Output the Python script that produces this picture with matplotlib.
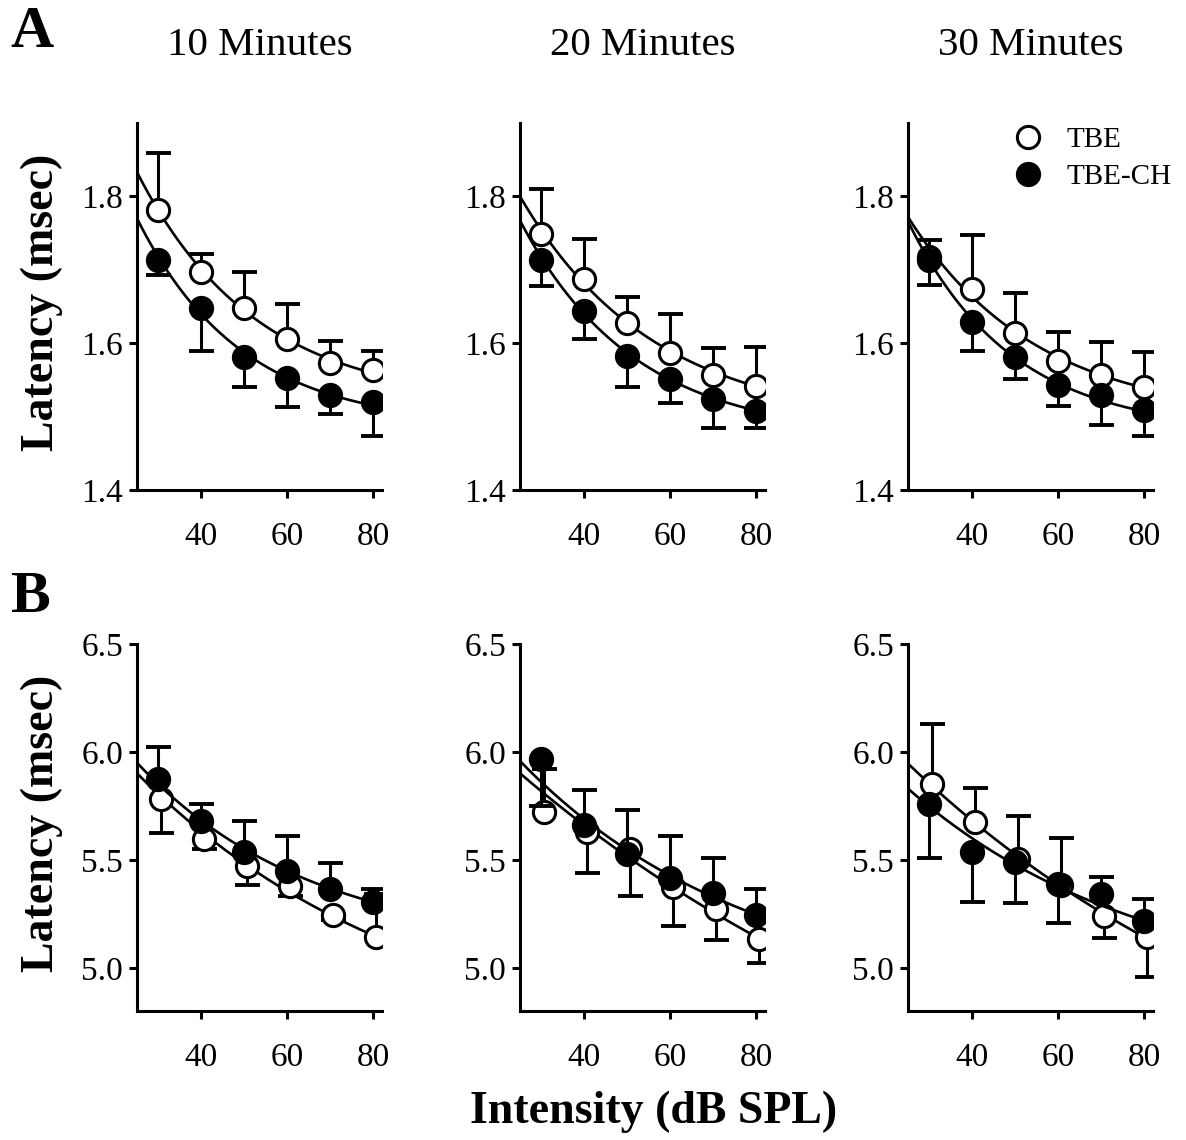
import numpy as np
import matplotlib
matplotlib.use("Agg")
import matplotlib.pyplot as plt
from matplotlib.lines import Line2D

plt.rcParams['font.family'] = ['Liberation Serif', 'DejaVu Serif']

# ---------------- data ----------------
time_titles = ['10 Minutes', '20 Minutes', '30 Minutes']
intensity = [30, 40, 50, 60, 70, 80]

# Row A (latency, msec); errors are signed (+ = bar up, - = bar down)
a_tbe = [[1.782, 1.697, 1.648, 1.606, 1.573, 1.564],
         [1.749, 1.687, 1.628, 1.586, 1.557, 1.542],
         [1.718, 1.674, 1.614, 1.576, 1.556, 1.541]]
a_tbe_err = [[0.077, 0.025, 0.049, 0.047, 0.030, 0.026],
             [0.061, 0.055, 0.035, 0.054, 0.036, 0.053],
             [0.022, 0.073, 0.054, 0.039, 0.046, 0.047]]
a_ch = [[1.714, 1.648, 1.581, 1.552, 1.529, 1.520],
        [1.713, 1.644, 1.583, 1.551, 1.524, 1.508],
        [1.714, 1.629, 1.581, 1.543, 1.529, 1.509]]
a_ch_err = [[-0.021, -0.058, -0.040, -0.039, -0.026, -0.047],
            [-0.035, -0.038, -0.042, -0.032, -0.040, -0.024],
            [-0.035, -0.039, -0.030, -0.029, -0.041, -0.036]]
# fitted-curve values read at the curve ends (x = 25 and x = 80)
a_tbe_fit_ends = [[1.833, 1.559], [1.800, 1.541], [1.772, 1.539]]
a_ch_fit_ends = [[1.770, 1.515], [1.767, 1.508], [1.766, 1.507]]

# Row B
b_tbe = [[5.781, 5.596, 5.470, 5.381, 5.243, 5.143],
         [5.720, 5.627, 5.550, 5.374, 5.273, 5.135],
         [5.853, 5.677, 5.504, 5.384, 5.238, 5.142]]
b_tbe_err = [[-0.157, -0.046, -0.086, -0.046, -0.020, 0.200],
             [0.200, -0.187, -0.218, -0.180, -0.146, -0.111],
             [0.277, 0.156, 0.200, 0.216, -0.100, -0.185]]
b_ch = [[5.876, 5.681, 5.535, 5.450, 5.366, 5.304],
        [5.965, 5.661, 5.527, 5.415, 5.347, 5.246],
        [5.761, 5.535, 5.492, 5.387, 5.341, 5.218]]
b_ch_err = [[0.148, 0.080, 0.146, 0.159, 0.118, 0.059],
            [-0.215, 0.163, 0.204, 0.197, 0.160, 0.117],
            [-0.254, -0.231, -0.190, -0.180, 0.082, 0.100]]
b_tbe_fit_ends = [[5.901, 5.150], [5.901, 5.143], [5.946, 5.142]]
b_ch_fit_ends = [[5.950, 5.304], [5.958, 5.246], [5.830, 5.218]]

series_labels = ['TBE', 'TBE-CH']
a_yticks = [1.4, 1.6, 1.8]
b_yticks = [5.0, 5.5, 6.0, 6.5]
xticks = [40, 60, 80]


def decay_curve(x, y, ends, x0=25.0, x1=80.0):
    """One-phase exponential decay pinned to the read curve ends,
    curvature chosen by least squares against the plotted means."""
    x = np.asarray(x, float)
    y = np.asarray(y, float)
    s, e = ends
    best = None
    for k in np.concatenate([np.linspace(-0.03, -0.0005, 120),
                             np.linspace(0.0005, 0.2, 600)]):
        d = np.exp(-k * x0) - np.exp(-k * x1)
        b = (s - e) / d
        a = s - b * np.exp(-k * x0)
        sse = np.sum((a + b * np.exp(-k * x) - y) ** 2)
        if best is None or sse < best[0]:
            best = (sse, a, b, k)
    _, a, b, k = best
    return lambda t: a + b * np.exp(-k * t)


W, H = 1186, 1140
fig = plt.figure(figsize=(W / 100, H / 100), dpi=100)

LW = 2.2
MS = 16
CAP = 18


def draw_series(ax, x, y, e, ends, filled, z):
    x = np.asarray(x, float)
    y = np.asarray(y, float)
    e = np.asarray(e, float)
    ax.vlines(x, y, y + e, color='black', lw=LW, zorder=z)
    ax.plot(x, y + e, ls='none', marker='_', ms=CAP, mew=LW + 0.6,
            color='black', zorder=z)
    f = decay_curve(x, y, ends)
    t = np.linspace(25, x.max(), 200)
    ax.plot(t, f(t), color='black', lw=1.9, zorder=z + 1)
    ax.plot(x, y, ls='none', marker='o', ms=MS, mew=LW,
            mec='black', mfc='black' if filled else 'white', zorder=z + 2)


col_left = [137, 520, 908]
row_top = [123, 644]
aw, ah = 245, 367

axes_rows = []
for r in range(2):
    row = []
    for c in range(3):
        left = col_left[c] / W
        bottom = 1 - (row_top[r] + ah) / H
        ax = fig.add_axes([left, bottom, aw / W, ah / H])
        row.append(ax)
    axes_rows.append(row)

for c in range(3):
    axA = axes_rows[0][c]
    axB = axes_rows[1][c]
    xs = np.array(intensity, float)
    draw_series(axA, xs, a_tbe[c], a_tbe_err[c], a_tbe_fit_ends[c], False, 2)
    draw_series(axA, xs, a_ch[c], a_ch_err[c], a_ch_fit_ends[c], True, 5)
    draw_series(axB, xs + 0.6, b_tbe[c], b_tbe_err[c], b_tbe_fit_ends[c],
                False, 2)
    draw_series(axB, xs, b_ch[c], b_ch_err[c], b_ch_fit_ends[c], True, 5)

    axA.set_ylim(1.4, 1.9)
    axA.set_yticks(a_yticks)
    axA.set_yticklabels([f'{v:.1f}' for v in a_yticks])
    axB.set_ylim(4.8, 6.5)
    axB.set_yticks(b_yticks)
    axB.set_yticklabels([f'{v:.1f}' for v in b_yticks])
    for ax in (axA, axB):
        ax.set_xlim(25, 82)
        ax.set_xticks(xticks)
        for s in ('top', 'right'):
            ax.spines[s].set_visible(False)
        for s in ('left', 'bottom'):
            ax.spines[s].set_linewidth(LW)
            ax.spines[s].set_capstyle('projecting')
        ax.tick_params(axis='both', direction='out', length=6, width=LW,
                       labelsize=24)
        ax.tick_params(axis='x', pad=17)
        ax.tick_params(axis='y', pad=4)
        ax.patch.set_alpha(0)

    cx = (col_left[c] + aw / 2) / W
    fig.text(cx, 1 - 55 / H, time_titles[c], ha='center', va='baseline',
             fontsize=29.5)

# legend
handles = [Line2D([], [], ls='none', marker='o', ms=MS, mew=LW,
                  mec='black', mfc='white'),
           Line2D([], [], ls='none', marker='o', ms=MS, mew=LW,
                  mec='black', mfc='black')]
axes_rows[0][2].legend(handles, series_labels, loc='upper left',
                       bbox_to_anchor=(1013 / W, 1 - 127 / H),
                       bbox_transform=fig.transFigure, frameon=False,
                       fontsize=21, handlelength=1.0, handletextpad=0.85,
                       borderpad=0, borderaxespad=0, labelspacing=0.36)

fig.text(10 / W, 1 - 47 / H, 'A', fontsize=43, fontweight='bold',
         va='baseline', ha='left')
fig.text(10 / W, 1 - 612 / H, 'B', fontsize=43, fontweight='bold',
         va='baseline', ha='left')
fig.text(42 / W, 1 - 302 / H, 'Latency (msec)', rotation=90, fontsize=33,
         fontweight='bold', ha='center', va='center')
fig.text(42 / W, 1 - 823 / H, 'Latency (msec)', rotation=90, fontsize=33,
         fontweight='bold', ha='center', va='center')
fig.text(654 / W, 1 - 1123 / H, 'Intensity (dB SPL)', fontsize=33,
         fontweight='bold', ha='center', va='baseline')

fig.savefig('out.png', dpi=100, facecolor='white')
